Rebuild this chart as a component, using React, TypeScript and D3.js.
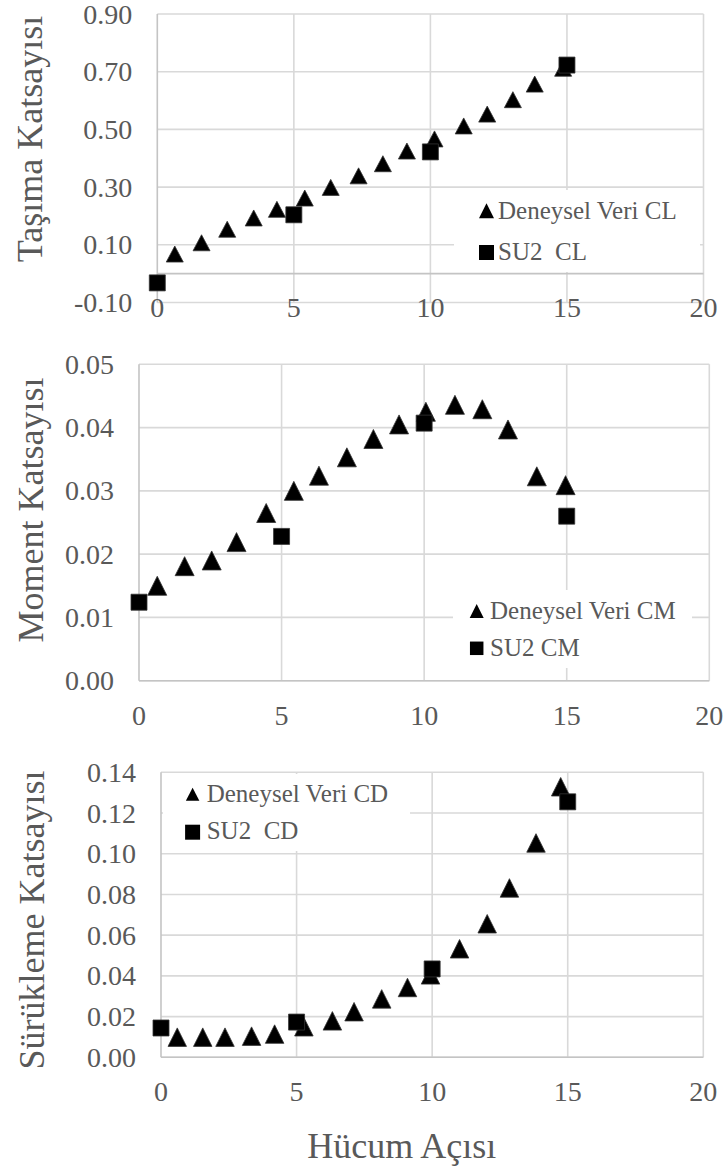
import React from "react";
import * as d3 from "d3";

// ---------- data ----------
const su2Alpha = [0, 5, 10, 15];

const clExpAlpha = [0.64, 1.62, 2.56, 3.53, 4.38, 5.4, 6.35, 7.37, 8.26, 9.14, 10.15, 11.22, 12.08, 13.02, 13.82, 14.86];
const clExp = [0.068, 0.107, 0.154, 0.193, 0.223, 0.262, 0.299, 0.339, 0.381, 0.425, 0.467, 0.512, 0.553, 0.603, 0.657, 0.712];
const clSu2 = [-0.032, 0.204, 0.422, 0.723];

const cmExpAlpha = [0.64, 1.6, 2.55, 3.42, 4.46, 5.43, 6.31, 7.29, 8.22, 9.12, 10.06, 11.08, 12.04, 12.94, 13.95, 14.96];
const cmExp = [0.015, 0.0181, 0.019, 0.0219, 0.0265, 0.03, 0.0324, 0.0353, 0.0382, 0.0405, 0.0425, 0.0436, 0.0429, 0.0397, 0.0323, 0.0309];
const cmSu2 = [0.0124, 0.0228, 0.0407, 0.026];

const cdExpAlpha = [0.6, 1.54, 2.36, 3.34, 4.19, 5.27, 6.32, 7.12, 8.14, 9.09, 9.94, 11.01, 12.03, 12.85, 13.83, 14.74];
const cdExp = [0.0099, 0.0099, 0.0099, 0.0104, 0.0114, 0.015, 0.0179, 0.0224, 0.0287, 0.0343, 0.0405, 0.0533, 0.0656, 0.0832, 0.1053, 0.1329];
const cdSu2 = [0.0144, 0.0173, 0.0434, 0.1255];

const xTicks = [0, 5, 10, 15, 20];
const clTicks = [-0.1, 0.1, 0.3, 0.5, 0.7, 0.9];
const cmTicks = [0, 0.01, 0.02, 0.03, 0.04, 0.05];
const cdTicks = [0, 0.02, 0.04, 0.06, 0.08, 0.1, 0.12, 0.14];

const yTitles = ["Taşıma Katsayısı", "Moment Katsayısı", "Sürükleme Katsayısı"];
const legendExp = ["Deneysel Veri CL", "Deneysel Veri CM", "Deneysel Veri CD"];
const legendSu2 = ["SU2  CL", "SU2 CM", "SU2  CD"];
const xTitle = "Hücum Açısı";

// ---------- styles ----------
const FONT = "'Liberation Serif', 'Times New Roman', serif";
const TXT = "#595959";
const GRID = "#d9d9d9";
const AXIS = "#c4c4c4";

const tri = (w: number, h: number) => `M0,${-h / 2}L${w / 2},${h / 2}L${-w / 2},${h / 2}Z`;
const sq = (s: number) => `M${-s / 2},${-s / 2}h${s}v${s}h${-s}Z`;

type PanelCfg = {
  xRange: [number, number];
  yDomain: [number, number];
  yRange: [number, number];
  yTicks: number[];
  axisAt: number;
  xLabelY: number;
  expA: number[];
  expV: number[];
  su2V: number[];
  triW: number;
  triH: number;
  sqS: number;
  title: string;
  titleX: number;
  titleY: number;
  legend: { box: [number, number, number, number]; mx: number; tx: number; y1: number; y2: number; b1: number; b2: number; triW: number; triH: number; sqS: number; exp: string; su2: string };
};

const panels: PanelCfg[] = [
  {
    xRange: [157.3, 703.5], yDomain: [-0.1, 0.9], yRange: [302.5, 14], yTicks: clTicks, axisAt: 0, xLabelY: 307.6,
    expA: clExpAlpha, expV: clExp, su2V: clSu2, triW: 17, triH: 16, sqS: 16,
    title: yTitles[0], titleX: 42, titleY: 139,
    legend: { box: [454, 190, 246, 82], mx: 486.5, tx: 498, y1: 210.7, y2: 252.5, b1: 219.3, b2: 260, triW: 15, triH: 15, sqS: 15, exp: legendExp[0], su2: legendSu2[0] },
  },
  {
    xRange: [139, 709.3], yDomain: [0, 0.05], yRange: [680.7, 364.3], yTicks: cmTicks, axisAt: 0, xLabelY: 715,
    expA: cmExpAlpha, expV: cmExp, su2V: cmSu2, triW: 19, triH: 19, sqS: 16,
    title: yTitles[1], titleX: 43, titleY: 510,
    legend: { box: [453, 590, 239, 78], mx: 476.7, tx: 490, y1: 611, y2: 648.3, b1: 619.3, b2: 655.5, triW: 14, triH: 14, sqS: 13.5, exp: legendExp[1], su2: legendSu2[1] },
  },
  {
    xRange: [161, 703.3], yDomain: [0, 0.14], yRange: [1057.3, 772.3], yTicks: cdTicks, axisAt: 0, xLabelY: 1091.7,
    expA: cdExpAlpha, expV: cdExp, su2V: cdSu2, triW: 18.5, triH: 18.5, sqS: 16,
    title: yTitles[2], titleX: 44, titleY: 920,
    legend: { box: [163, 774, 247, 77], mx: 192.6, tx: 206.7, y1: 794.2, y2: 832.2, b1: 801.7, b2: 839, triW: 13.5, triH: 13, sqS: 15, exp: legendExp[2], su2: legendSu2[2] },
  },
];

function Panel({ c }: { c: PanelCfg }) {
  const x = d3.scaleLinear().domain([0, 20]).range(c.xRange);
  const y = d3.scaleLinear().domain(c.yDomain).range(c.yRange);
  const [x0, x1] = c.xRange;
  const yTop = y(c.yDomain[1]);
  const yBot = y(c.yDomain[0]);
  const lg = c.legend;
  return (
    <g>
      {/* horizontal gridlines */}
      {c.yTicks.map((t) => (
        <line key={"h" + t} x1={x0} x2={x1} y1={y(t)} y2={y(t)} stroke={GRID} strokeWidth={1.6} />
      ))}
      {/* vertical gridlines */}
      {xTicks.slice(1).map((t) => (
        <line key={"v" + t} x1={x(t)} x2={x(t)} y1={yTop} y2={yBot} stroke={GRID} strokeWidth={1.6} />
      ))}
      {/* axes */}
      <line x1={x0} x2={x0} y1={yTop} y2={yBot} stroke={AXIS} strokeWidth={1.6} />
      <line x1={x0} x2={x1} y1={y(c.axisAt)} y2={y(c.axisAt)} stroke={AXIS} strokeWidth={1.6} />
      {/* legend box */}
      <rect x={lg.box[0]} y={lg.box[1]} width={lg.box[2]} height={lg.box[3]} fill="#fff" />
      {/* y tick labels */}
      {c.yTicks.map((t) => (
        <text key={"yl" + t} x={x0 - 25} y={y(t) + 9.5} textAnchor="end" fontSize={28} fill={TXT} fontFamily={FONT}>
          {t.toFixed(2)}
        </text>
      ))}
      {/* x tick labels */}
      {xTicks.map((t) => (
        <text key={"xl" + t} x={x(t)} y={c.xLabelY + 9.5} textAnchor="middle" fontSize={28} fill={TXT} fontFamily={FONT}>
          {t}
        </text>
      ))}
      {/* y title */}
      <text transform={`translate(${c.titleX},${c.titleY}) rotate(-90)`} textAnchor="middle" fontSize={36} fill={TXT} fontFamily={FONT}>
        {c.title}
      </text>
      {/* experimental series */}
      {c.expA.map((a, i) => (
        <path key={"e" + i} d={tri(c.triW, c.triH)} transform={`translate(${x(a)},${y(c.expV[i])})`} fill="#000" stroke="#333" strokeWidth={0.8} />
      ))}
      {/* SU2 series */}
      {su2Alpha.map((a, i) => (
        <path key={"s" + i} d={sq(c.sqS)} transform={`translate(${x(a)},${y(c.su2V[i])})`} fill="#000" stroke="#333" strokeWidth={0.8} />
      ))}
      {/* legend */}
      <path d={tri(lg.triW, lg.triH)} transform={`translate(${lg.mx},${lg.y1})`} fill="#000" />
      <path d={sq(lg.sqS)} transform={`translate(${lg.mx},${lg.y2})`} fill="#000" />
      <text x={lg.tx} y={lg.b1} fontSize={25} fill={TXT} fontFamily={FONT} style={{ whiteSpace: "pre" }}>
        {lg.exp}
      </text>
      <text x={lg.tx} y={lg.b2} fontSize={25} fill={TXT} fontFamily={FONT} style={{ whiteSpace: "pre" }}>
        {lg.su2}
      </text>
    </g>
  );
}

export default function App() {
  return (
    <svg width={725} height={1173} style={{ position: "absolute", left: 0, top: 0, background: "#fff" }}>
      <rect width={725} height={1173} fill="#fff" />
      {panels.map((p, i) => (
        <Panel key={i} c={p} />
      ))}
      <text x={401.7} y={1158} textAnchor="middle" fontSize={36} fill={TXT} fontFamily={FONT}>
        {xTitle}
      </text>
    </svg>
  );
}
